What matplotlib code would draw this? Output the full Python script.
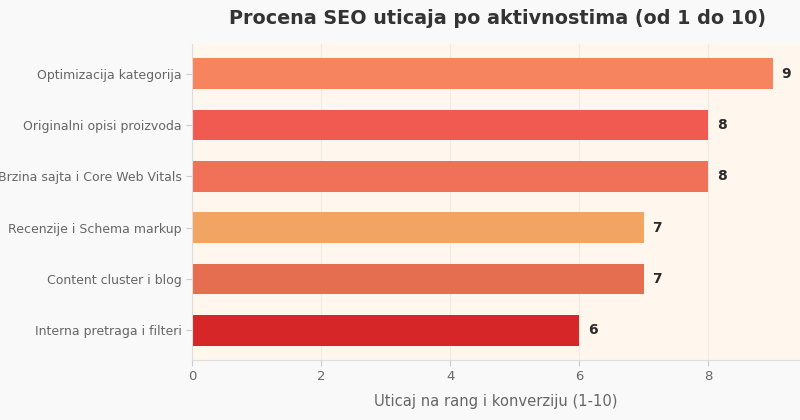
import matplotlib
matplotlib.use("Agg")
import matplotlib.pyplot as plt

categories = ['Optimizacija kategorija', 'Originalni opisi proizvoda',
              'Brzina sajta i Core Web Vitals', 'Recenzije i Schema markup',
              'Content cluster i blog', 'Interna pretraga i filteri']
scores = [9, 8, 8, 7, 7, 6]
colors = ['#f5845f', '#f05a50', '#f07058', '#f2a462', '#e56e50', '#d62628']

fig = plt.figure(figsize=(8, 4.2), dpi=100, facecolor='#f9f9f9')
ax = fig.add_axes([0.24, 0.143, 0.76, 0.752])
ax.set_facecolor('#fff7ee')

ypos = list(range(len(categories)))[::-1]
ax.barh(ypos, scores, height=0.6, color=colors, zorder=2)

for y, v in zip(ypos, scores):
    ax.text(v + 0.13, y, str(v), va='center', ha='left',
            fontsize=10, fontweight='bold', color='#2a2a2a')

ax.set_yticks(ypos)
ax.set_yticklabels(categories)
ax.set_xlim(0, 9.42)
ax.set_xticks([0, 2, 4, 6, 8])
ax.tick_params(colors='#666666', labelsize=9, length=4)
ax.tick_params(axis='x', labelsize=9.5)
ax.tick_params(axis='both', color='#cccccc')
ax.xaxis.grid(True, color='#eeeae4', linewidth=0.8, zorder=0)
ax.set_axisbelow(True)

for s in ['top', 'right']:
    ax.spines[s].set_visible(False)
for s in ['left', 'bottom']:
    ax.spines[s].set_color('#dddddd')

ax.set_xlabel('Uticaj na rang i konverziju (1-10)', fontsize=10.6,
              color='#666666', labelpad=8)
fig.text(0.622, 0.955, 'Procena SEO uticaja po aktivnostima (od 1 do 10)',
         ha='center', va='center', fontsize=13.8, fontweight='bold', color='#333333')

fig.savefig('out.png', dpi=100, facecolor=fig.get_facecolor())
